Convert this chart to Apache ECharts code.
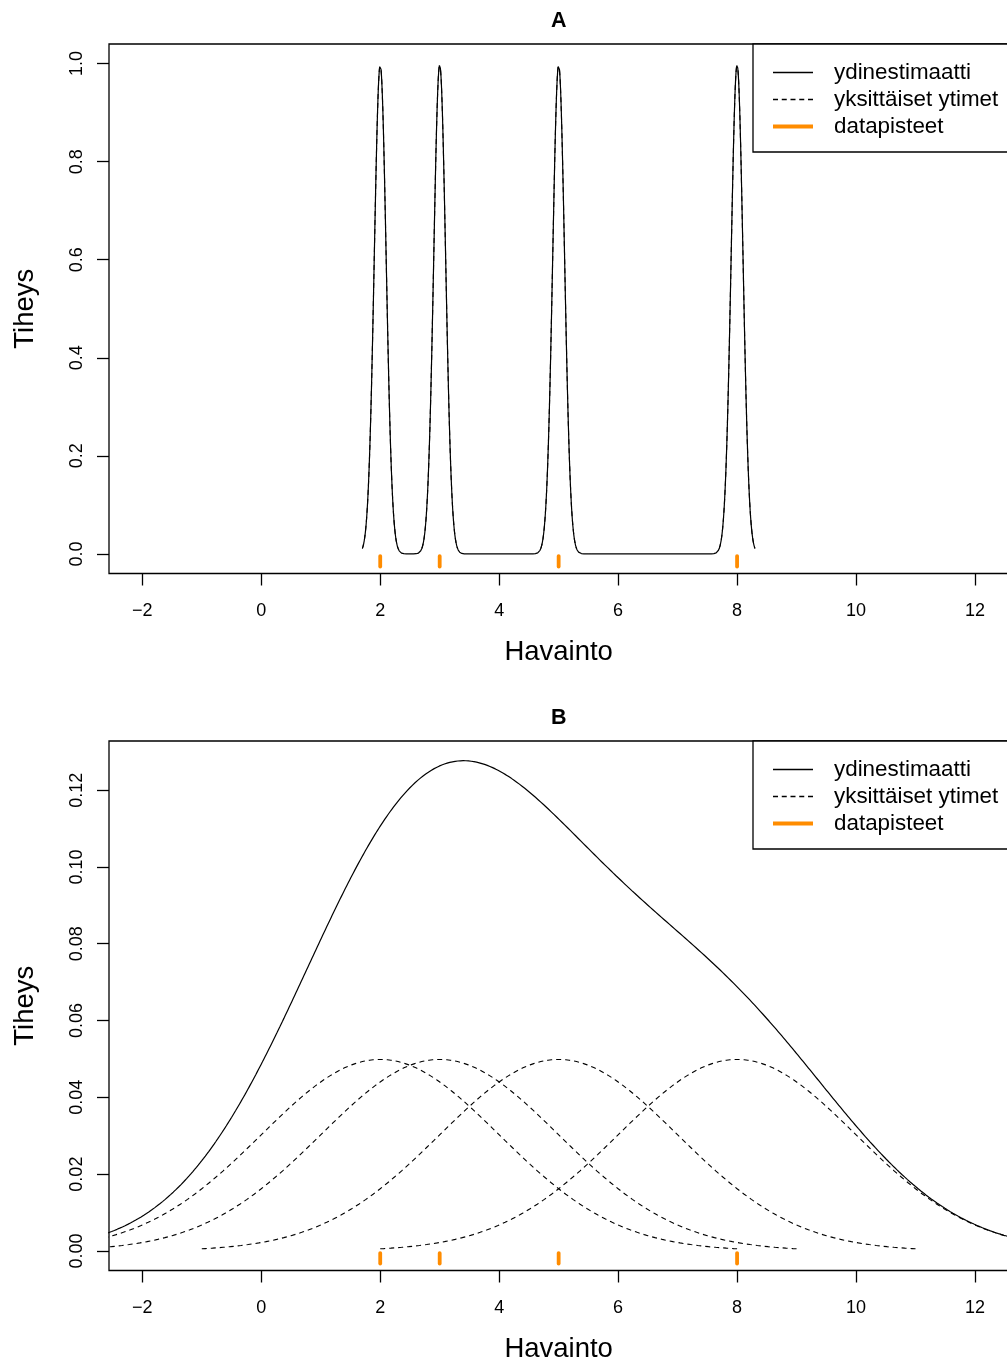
<!DOCTYPE html>
<html>
<head>
<meta charset="utf-8">
<script src="https://cdn.jsdelivr.net/npm/echarts@6/dist/echarts.min.js"></script>
<style>
  html, body { margin: 0; padding: 0; background: #fff; }
  #chart { width: 1007px; height: 1363px; }
</style>
</head>
<body>
<div id="chart"></div>
<script>
// Observations shown as the rug and used for the kernel estimates
const havainnot = [2, 3, 5, 8];
// Gaussian kernel bandwidth for panel A and panel B
const kaistanleveydet = [0.1, 2];
const paneelit = ['A', 'B'];
const xTicks = [-2, 0, 2, 4, 6, 8, 10, 12];
const yTicksA = [0, 0.2, 0.4, 0.6, 0.8, 1.0];
const yTicksB = [0, 0.02, 0.04, 0.06, 0.08, 0.10, 0.12];
const legendNames = ['ydinestimaatti', 'yksittäiset ytimet', 'datapisteet'];

const FONT = '"Liberation Sans", Arial, Helvetica, sans-serif';
const ORANGE = '#FF8C00';
const GRID_LEFT = 109;
const GRID_WIDTH = 899.3;
const GRID_HEIGHT = 529.5;
const GRID_TOPS = [44, 741];
const X_RANGE = [-2.56, 12.56];
const Y_RANGES = [[-0.04, 1.04], [-0.0051, 0.1328]];
const Y_TICKS = [yTicksA, yTicksB];
const Y_DECIMALS = [1, 2];

function dnorm(z) {
  return Math.exp(-0.5 * z * z) / Math.sqrt(2 * Math.PI);
}

// One Gaussian kernel (weighted 1/n) drawn over xi ± 3h
function yksittainenYdin(xi, h, n, steps) {
  const pts = [];
  for (let k = 0; k <= steps; k++) {
    const x = xi - 3 * h + (6 * h * k) / steps;
    pts.push([x, dnorm((x - xi) / h) / (h * n)]);
  }
  return pts;
}

// Kernel density estimate over [min - 3h, max + 3h]
function ydinestimaatti(xs, h, steps) {
  const lo = Math.min(...xs) - 3 * h;
  const hi = Math.max(...xs) + 3 * h;
  const pts = [];
  for (let k = 0; k <= steps; k++) {
    const x = lo + ((hi - lo) * k) / steps;
    let s = 0;
    for (const xi of xs) s += dnorm((x - xi) / h);
    pts.push([x, s / (xs.length * h)]);
  }
  return pts;
}

// Short orange ticks just below the zero line at each observation
function rugItem(params, api) {
  const p = api.coord([api.value(0), 0]);
  return {
    type: 'line',
    shape: { x1: p[0], y1: p[1] + 2.2, x2: p[0], y2: p[1] + 12.6 },
    style: { stroke: ORANGE, lineWidth: 3.8, lineCap: 'round' }
  };
}

const dashIcon = 'path://M0,0h5v1.3h-5zM8.75,0h5v1.3h-5zM17.5,0h5v1.3h-5zM26.25,0h5v1.3h-5zM35,0h5v1.3h-5z';
const legendIcons = ['path://M0,0H40V1.3H0Z', dashIcon, 'path://M0,0H40V4H0Z'];
const legendColors = ['#000', '#000', ORANGE];

const grids = [], xAxes = [], yAxes = [], series = [], legends = [], texts = [];

paneelit.forEach((paneeli, i) => {
  const h = kaistanleveydet[i];
  const n = havainnot.length;

  grids.push({
    left: GRID_LEFT, top: GRID_TOPS[i], width: GRID_WIDTH, height: GRID_HEIGHT,
    show: true, borderColor: '#000', borderWidth: 1.3, backgroundColor: 'transparent',
    containLabel: false, outerBoundsMode: 'none'
  });

  xAxes.push({
    type: 'value', gridIndex: i, min: X_RANGE[0], max: X_RANGE[1],
    axisLine: { show: false, onZero: false },
    axisTick: { show: true, length: 12, customValues: xTicks, lineStyle: { color: '#000', width: 1.3 } },
    axisLabel: {
      customValues: xTicks, margin: 29, fontSize: 18, fontFamily: FONT, color: '#000',
      formatter: v => String(v).replace('-', '\u2212')
    },
    splitLine: { show: false },
    name: 'Havainto', nameLocation: 'middle', nameGap: 65,
    nameTextStyle: { fontSize: 27.5, fontFamily: FONT, color: '#000' }
  });

  yAxes.push({
    type: 'value', gridIndex: i, min: Y_RANGES[i][0], max: Y_RANGES[i][1],
    axisLine: { show: false, onZero: false },
    axisTick: { show: true, length: 12, customValues: Y_TICKS[i], lineStyle: { color: '#000', width: 1.3 } },
    axisLabel: {
      customValues: Y_TICKS[i], rotate: 90, margin: 23, fontSize: 18, fontFamily: FONT, color: '#000',
      formatter: v => Number(v).toFixed(Y_DECIMALS[i])
    },
    splitLine: { show: false },
    name: 'Tiheys', nameLocation: 'middle', nameGap: 70,
    nameTextStyle: { fontSize: 27.5, fontFamily: FONT, color: '#000' }
  });

  havainnot.forEach(xi => {
    series.push({
      type: 'line', name: 'yksittäiset ytimet', xAxisIndex: i, yAxisIndex: i,
      data: yksittainenYdin(xi, h, n, 400), symbol: 'none', showSymbol: false,
      color: '#000', lineStyle: { color: '#000', width: 1.1, type: [5, 4] }, silent: true
    });
  });

  series.push({
    type: 'line', name: 'ydinestimaatti', xAxisIndex: i, yAxisIndex: i,
    data: ydinestimaatti(havainnot, h, 2400), symbol: 'none', showSymbol: false,
    color: '#000', lineStyle: { color: '#000', width: 1.2 }, silent: true
  });

  series.push({
    type: 'custom', name: 'datapisteet', xAxisIndex: i, yAxisIndex: i,
    data: havainnot.map(v => [v, 0]), renderItem: rugItem, color: ORANGE, silent: true
  });

  legends.push({
    orient: 'vertical', left: 753, top: GRID_TOPS[i],
    padding: [17.5, 60, 14.5, 20], itemWidth: 40, itemHeight: 22, itemGap: 5,
    borderColor: '#000', borderWidth: 1.3, backgroundColor: '#fff',
    selectedMode: false,
    textStyle: { fontFamily: FONT, fontSize: 22.4, color: '#000', padding: [0, 0, 0, 16] },
    itemStyle: { borderWidth: 0 },
    data: legendNames.map((name, k) => ({
      name: name, icon: legendIcons[k], itemStyle: { color: legendColors[k], borderWidth: 0 }
    }))
  });

  texts.push({
    type: 'text', x: GRID_LEFT + GRID_WIDTH / 2, y: GRID_TOPS[i] - 23,
    style: {
      text: paneeli, align: 'center', verticalAlign: 'middle',
      font: 'bold 21.5px ' + FONT, fill: '#000'
    }
  });
});

const chart = echarts.init(document.getElementById('chart'), null, { renderer: 'canvas' });
chart.setOption({
  animation: false,
  backgroundColor: '#fff',
  grid: grids,
  xAxis: xAxes,
  yAxis: yAxes,
  legend: legends,
  graphic: texts,
  series: series
});
</script>
</body>
</html>
